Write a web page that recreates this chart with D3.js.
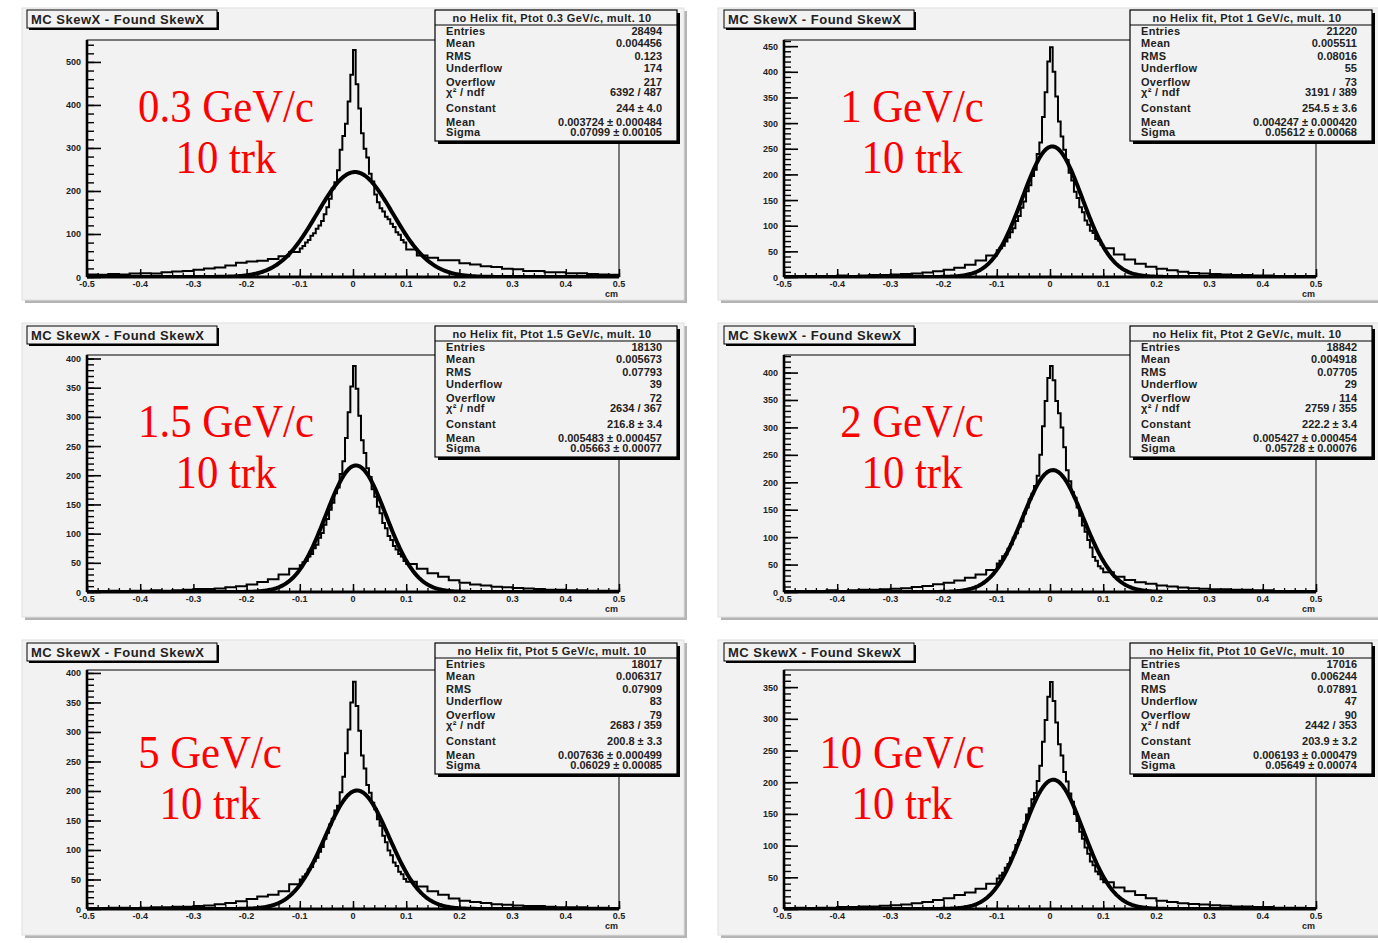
<!DOCTYPE html>
<html><head><meta charset="utf-8">
<script src="https://cdn.jsdelivr.net/npm/d3@7"></script>
<style>
html,body{margin:0;padding:0;background:#fff;}
svg{display:block;}
</style></head>
<body>
<svg id="chart" width="1378" height="943"></svg>
<script>
// ---------------- DATA ----------------
const momentumLabels = ["0.3 GeV/c", "1 GeV/c", "1.5 GeV/c", "2 GeV/c", "5 GeV/c", "10 GeV/c"];
const trackLabel = "10 trk";
const histTitle = "MC SkewX - Found SkewX";
const statHeaders = [
  "no Helix fit, Ptot 0.3 GeV/c, mult. 10",
  "no Helix fit, Ptot 1 GeV/c, mult. 10",
  "no Helix fit, Ptot 1.5 GeV/c, mult. 10",
  "no Helix fit, Ptot 2 GeV/c, mult. 10",
  "no Helix fit, Ptot 5 GeV/c, mult. 10",
  "no Helix fit, Ptot 10 GeV/c, mult. 10"
];
const statEntries   = ["28494", "21220", "18130", "18842", "18017", "17016"];
const statMean      = ["0.004456", "0.005511", "0.005673", "0.004918", "0.006317", "0.006244"];
const statRMS       = ["0.123", "0.08016", "0.07793", "0.07705", "0.07909", "0.07891"];
const statUnderflow = ["174", "55", "39", "29", "83", "47"];
const statOverflow  = ["217", "73", "72", "114", "79", "90"];
const statChi2Ndf   = ["6392 / 487", "3191 / 389", "2634 / 367", "2759 / 355", "2683 / 359", "2442 / 353"];
const fitConstant   = [244, 254.5, 216.8, 222.2, 200.8, 203.9];
const fitConstErr   = ["4.0", "3.6", "3.4", "3.4", "3.3", "3.2"];
const fitMean       = [0.003724, 0.004247, 0.005483, 0.005427, 0.007636, 0.006193];
const fitMeanErr    = ["0.000484", "0.000420", "0.000457", "0.000454", "0.000499", "0.000479"];
const fitSigma      = [0.07099, 0.05612, 0.05663, 0.05728, 0.06029, 0.05649];
const fitSigmaErr   = ["0.00105", "0.00068", "0.00077", "0.00076", "0.00085", "0.00074"];
const fitConstText  = ["244", "254.5", "216.8", "222.2", "200.8", "203.9"];
const fitMeanText   = ["0.003724", "0.004247", "0.005483", "0.005427", "0.007636", "0.006193"];
const fitSigmaText  = ["0.07099", "0.05612", "0.05663", "0.05728", "0.06029", "0.05649"];

const xDomain = [-0.5, 0.5];
const xTickLabels = ["-0.5", "-0.4", "-0.3", "-0.2", "-0.1", "0", "0.1", "0.2", "0.3", "0.4", "0.5"];
const xUnit = "cm";
const yMax = [551, 462, 406, 432, 405, 377];
const yMajorStep = [100, 50, 50, 50, 50, 50];

// bin layout: 20 bins of 0.02 (-0.5..-0.1), 40 bins of 0.005 (-0.1..0.1), 20 bins of 0.02 (0.1..0.5)
const hist_0p3 = [
  6,5,7,6,8,9,8,11,13,14,17,20,22,27,33,36,38,42,48,58,
  66,72,80,86,96,102,112,120,130,146,162,182,206,220,248,296,328,356,408,470,
  528,448,392,334,298,278,240,222,192,174,160,152,140,134,124,116,104,98,86,80,
  64,50,45,39,39,32,29,25,23,19,18,14,14,11,11,9,9,7,6,5
];
const hist_1 = [
  1,2,1,2,2,3,2,3,4,4,5,6,7,9,11,14,18,24,32,42,
  52,56,61,69,77,87,95,109,119,135,147,167,179,197,209,240,262,312,360,420,
  448,400,352,303,274,248,228,203,188,166,154,136,126,110,102,90,86,74,71,63,
  56,44,34,26,20,16,13,10,8,7,6,5,4,4,3,3,2,2,2,1
];
const hist_1p5 = [
  1,1,2,1,2,2,3,2,3,4,5,5,6,8,10,13,17,22,30,40,
  46,51,53,61,65,75,81,93,101,115,125,141,153,169,179,202,224,264,308,352,
  387,348,302,260,238,212,197,176,163,146,135,118,109,96,89,79,73,65,61,53,
  48,40,32,26,20,16,13,11,9,8,7,6,5,4,4,3,3,2,2,2
];
const hist_2 = [
  1,2,1,2,3,2,3,4,4,5,6,7,9,11,14,17,21,26,32,40,
  52,57,65,69,79,87,99,107,119,129,143,154,169,179,193,212,250,302,348,390,
  412,386,348,326,300,264,222,202,182,172,154,139,121,110,95,81,64,57,47,43,
  36,28,22,18,15,12,10,8,7,6,5,5,4,4,3,3,2,2,2,1
];
const hist_5 = [
  1,1,2,2,1,2,3,3,4,4,5,6,8,10,13,17,21,24,30,42,
  50,55,59,67,71,81,87,97,105,119,129,143,153,167,175,198,224,264,304,350,
  385,344,302,260,238,210,197,180,169,152,141,124,113,99,91,79,73,63,59,51,
  46,38,30,24,18,14,12,10,8,7,6,5,5,4,3,3,3,2,2,1
];
const hist_10 = [
  1,2,1,2,2,3,3,4,4,5,6,7,9,11,14,17,22,26,32,40,
  48,53,57,65,71,81,89,101,109,123,133,149,159,173,183,202,226,264,298,335,
  358,328,294,260,242,216,201,182,169,150,139,122,111,97,87,75,69,59,55,47,
  42,34,28,22,17,13,11,9,8,7,6,5,4,4,3,3,2,2,2,1
];
const histograms = [hist_0p3, hist_1, hist_1p5, hist_2, hist_5, hist_10];

// ---------------- LAYOUT ----------------
const binEdges = [
  ...d3.range(20).map(i => -0.5 + 0.02 * i),
  ...d3.range(40).map(i => -0.1 + 0.005 * i),
  ...d3.range(21).map(i => 0.1 + 0.02 * i)
];
const colFrameX = [22, 718], colFrameW = [662, 662];
const rowFrameY = [8, 323, 640], rowFrameH = [292, 294, 295];
const plotLeft = [87, 784], plotRight = [619, 1316];
const plotTop = [40, 355, 670], plotBottom = [277, 592, 909];
const statsX = [435, 1130], statsY = [10, 326, 643], statsW = 242, statsH = 131;
const titleX = [27, 724], titleW = 190, titleH = 18;
const labelCX = [226, 912, 226, 912, 210, 902];
const labelBaseY = [122, 437, 768];

const svg = d3.select("#chart");
const SANS = '"Liberation Sans", Arial, sans-serif';
const SERIF = '"Liberation Serif", "Times New Roman", serif';

histograms.forEach((counts, i) => {
  const col = i % 2, row = Math.floor(i / 2);
  const g = svg.append("g");

  // pad frame with shadow
  const fx = colFrameX[col], fy = rowFrameY[row], fw = colFrameW[col], fh = rowFrameH[row];
  g.append("rect").attr("x", fx + 3).attr("y", fy + 3).attr("width", fw).attr("height", fh).attr("fill", "#b4b4b4");
  g.append("rect").attr("x", fx).attr("y", fy).attr("width", fw).attr("height", fh)
    .attr("fill", "#f2f2f2").attr("stroke", "#e0e0e0").attr("stroke-width", 1);

  const x = d3.scaleLinear().domain(xDomain).range([plotLeft[col], plotRight[col]]);
  const y = d3.scaleLinear().domain([0, yMax[i]]).range([plotBottom[row], plotTop[row]]);

  const clipId = "clip" + i;
  svg.append("defs").append("clipPath").attr("id", clipId)
    .append("rect").attr("x", x(-0.5)).attr("y", y(yMax[i])).attr("width", x(0.5) - x(-0.5)).attr("height", y(0) - y(yMax[i]));

  // histogram step line
  let d = "M" + x(binEdges[0]) + "," + y(counts[0]);
  counts.forEach((c, k) => {
    if (k > 0) d += "V" + y(c);
    d += "H" + x(binEdges[k + 1]);
  });
  g.append("path").attr("d", d).attr("fill", "none").attr("stroke", "#000").attr("stroke-width", 2)
    .attr("clip-path", `url(#${clipId})`);

  // gaussian fit curve from the fit parameters
  const xs = d3.range(-0.5, 0.5001, 0.002);
  const gaus = t => fitConstant[i] * Math.exp(-0.5 * Math.pow((t - fitMean[i]) / fitSigma[i], 2));
  g.append("path").datum(xs)
    .attr("d", d3.line().x(t => x(t)).y(t => y(gaus(t))))
    .attr("fill", "none").attr("stroke", "#000").attr("stroke-width", 4).attr("stroke-linejoin", "round")
    .attr("clip-path", `url(#${clipId})`);

  // frame
  g.append("rect").attr("x", x(-0.5)).attr("y", y(yMax[i])).attr("width", x(0.5) - x(-0.5)).attr("height", y(0) - y(yMax[i]))
    .attr("fill", "none").attr("stroke", "#000").attr("stroke-width", 1);

  // x axis
  const xAxis = d3.axisTop(x).tickValues(d3.range(-0.5, 0.5001, 0.1)).tickSize(8).tickFormat("");
  const xMinor = d3.axisTop(x).tickValues(d3.range(-0.5, 0.5001, 0.02)).tickSize(4).tickFormat("");
  g.append("g").attr("transform", `translate(0,${y(0)})`).call(xMinor).call(s => s.select(".domain").remove())
    .selectAll("line").attr("stroke-width", 1.3);
  g.append("g").attr("transform", `translate(0,${y(0)})`).call(xAxis).call(s => s.select(".domain").remove())
    .selectAll("line").attr("stroke-width", 1.5);
  g.append("line").attr("x1", x(-0.5)).attr("x2", x(0.5)).attr("y1", y(0)).attr("y2", y(0)).attr("stroke", "#000").attr("stroke-width", 3);
  g.selectAll(".xlab").data(xTickLabels).enter().append("text")
    .attr("x", (s, k) => x(-0.5 + 0.1 * k)).attr("y", y(0) + 10)
    .attr("text-anchor", "middle").attr("font-size", 9).attr("font-weight", "bold").style("font-family", SANS)
    .attr("fill", "#222").text(s => s);
  g.append("text").attr("x", x(0.5) - 1).attr("y", y(0) + 20).attr("text-anchor", "end")
    .attr("font-size", 9).attr("font-weight", "bold").style("font-family", SANS).attr("fill", "#222").text(xUnit);

  // y axis
  const step = yMajorStep[i];
  const yMaj = d3.range(0, yMax[i] + 0.1, step);
  const yMin = d3.range(0, yMax[i] + 0.1, step / 5);
  const yAxisMinor = d3.axisRight(y).tickValues(yMin).tickSize(7).tickFormat("");
  const yAxisMajor = d3.axisRight(y).tickValues(yMaj).tickSize(14).tickFormat("");
  g.append("g").attr("transform", `translate(${x(-0.5)},0)`).call(yAxisMinor).call(s => s.select(".domain").remove())
    .selectAll("line").attr("stroke-width", 1.4);
  g.append("g").attr("transform", `translate(${x(-0.5)},0)`).call(yAxisMajor).call(s => s.select(".domain").remove())
    .selectAll("line").attr("stroke-width", 1.6);
  g.append("line").attr("x1", x(-0.5)).attr("x2", x(-0.5)).attr("y1", y(0)).attr("y2", y(yMax[i])).attr("stroke", "#000").attr("stroke-width", 2.6);
  g.selectAll(".ylab").data(yMaj).enter().append("text")
    .attr("x", x(-0.5) - 6).attr("y", v => y(v) + 3.5)
    .attr("text-anchor", "end").attr("font-size", 9).attr("font-weight", "bold").style("font-family", SANS)
    .attr("fill", "#222").text(v => d3.format("d")(v));

  // title box
  const tx = titleX[col], ty = statsY[row];
  g.append("rect").attr("x", tx + 2).attr("y", ty + 2).attr("width", titleW).attr("height", titleH).attr("fill", "#000");
  g.append("rect").attr("x", tx).attr("y", ty).attr("width", titleW).attr("height", titleH)
    .attr("fill", "#f2f2f2").attr("stroke", "#000").attr("stroke-width", 1);
  g.append("text").attr("x", tx + 4).attr("y", ty + 14).attr("font-size", 13).attr("font-weight", "bold")
    .style("font-family", SANS).style("letter-spacing", "0.5px").attr("fill", "#222").text(histTitle);

  // stats box
  const sx = statsX[col], sy = statsY[row];
  g.append("rect").attr("x", sx + 3).attr("y", sy + 3).attr("width", statsW).attr("height", statsH).attr("fill", "#000");
  g.append("rect").attr("x", sx).attr("y", sy).attr("width", statsW).attr("height", statsH)
    .attr("fill", "#f2f2f2").attr("stroke", "#000").attr("stroke-width", 1.2);
  g.append("line").attr("x1", sx).attr("x2", sx + statsW).attr("y1", sy + 15).attr("y2", sy + 15)
    .attr("stroke", "#000").attr("stroke-width", 1.2);
  g.append("text").attr("x", sx + 117).attr("y", sy + 11.5).attr("text-anchor", "middle")
    .attr("font-size", 11).attr("font-weight", "bold").style("font-family", SANS).style("letter-spacing", "0.4px")
    .attr("fill", "#222").text(statHeaders[i]);
  const rows = [
    ["Entries", statEntries[i], 24.5],
    ["Mean", statMean[i], 36.7],
    ["RMS", statRMS[i], 50],
    ["Underflow", statUnderflow[i], 61.7],
    ["Overflow", statOverflow[i], 76],
    ["χ² / ndf", statChi2Ndf[i], 85.5],
    ["Constant", fitConstText[i] + " ± " + fitConstErr[i], 102],
    ["Mean", fitMeanText[i] + " ± " + fitMeanErr[i], 116],
    ["Sigma", fitSigmaText[i] + " ± " + fitSigmaErr[i], 125.5]
  ];
  rows.forEach(r => {
    g.append("text").attr("x", sx + 11).attr("y", sy + r[2]).attr("font-size", 11).attr("font-weight", "bold")
      .style("font-family", SANS).style("letter-spacing", "0.3px").attr("fill", "#222").text(r[0]);
    g.append("text").attr("x", sx + 227).attr("y", sy + r[2]).attr("text-anchor", "end").attr("font-size", 11)
      .attr("font-weight", "bold").style("font-family", SANS).attr("fill", "#222").text(r[1]);
  });

  // red annotation
  [momentumLabels[i], trackLabel].forEach((s, k) => {
    g.append("text")
      .attr("transform", `translate(${labelCX[i]},${labelBaseY[row] + 51 * k}) scale(0.93,1)`)
      .attr("text-anchor", "middle").attr("font-size", 46)
      .style("font-family", SERIF).attr("fill", "#ff0000").text(s);
  });
});
</script>
</body></html>
